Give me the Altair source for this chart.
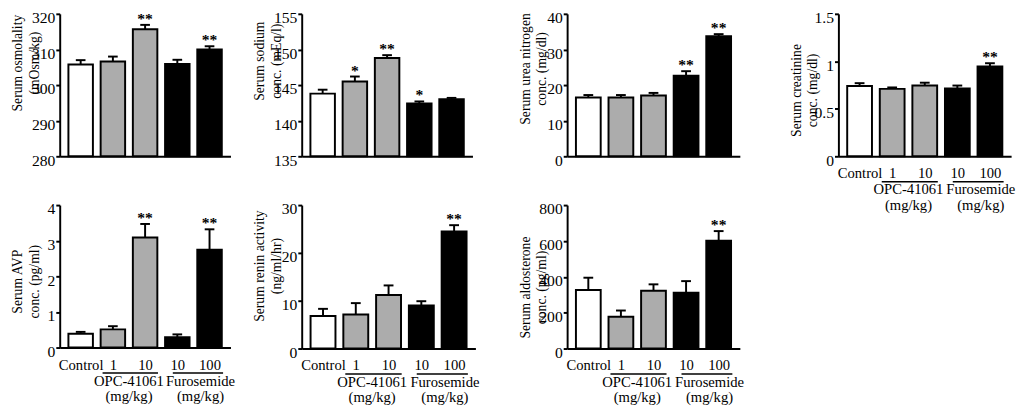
import json
import altair as alt
import pandas as pd

FONT = "Liberation Serif"

# ---- categories ----
positions = [0, 1, 2, 3, 4]
groups = ["Control", "OPC", "OPC", "Furo", "Furo"]
dose_labels = ["Control", "1", "10", "10", "100"]
group_domain = ["Control", "OPC", "Furo"]
group_fills = ["white", "#acacac", "black"]

group_names = ["OPC-41061", "Furosemide"]
group_units = ["(mg/kg)", "(mg/kg)"]
group_centers = [1.5, 3.72]
underline_start = [0.68, 2.86]
underline_end = [2.4, 4.42]

# ---- series (mean, top of error bar, significance) ----
osm_mean = [305.8, 306.6, 315.7, 305.9, 310.0]
osm_top = [307.0, 308.0, 316.9, 307.1, 310.9]
osm_star = ["", "", "**", "", "**"]

na_mean = [143.8, 145.5, 148.8, 142.4, 143.0]
na_top = [144.35, 146.2, 149.2, 142.7, 143.2]
na_star = ["", "*", "**", "*", ""]

bun_mean = [16.5, 16.5, 17.1, 22.6, 33.7]
bun_top = [17.2, 17.2, 17.8, 23.9, 34.3]
bun_star = ["", "", "", "**", "**"]

cre_mean = [0.74, 0.71, 0.745, 0.715, 0.945]
cre_top = [0.77, 0.725, 0.775, 0.745, 0.98]
cre_star = ["", "", "", "", "**"]

avp_mean = [0.39, 0.51, 3.09, 0.29, 2.75]
avp_top = [0.44, 0.60, 3.47, 0.37, 3.32]
avp_star = ["", "", "**", "", "**"]

pra_mean = [6.8, 7.1, 11.2, 9.0, 24.5]
pra_top = [8.3, 9.5, 13.2, 9.9, 25.8]
pra_star = ["", "", "", "", "**"]

ald_mean = [326, 177, 322, 311, 601]
ald_top = [395, 212, 358, 376, 655]
ald_star = ["", "", "", "", "**"]

label_expr = json.dumps(dose_labels) + "[datum.value]"


def panel(mean, top, star, ymin, ymax, yvals, title, width, height,
          show_labels, title_y):
    df = pd.DataFrame({"pos": positions, "group": groups, "mean": mean,
                       "top": top, "star": star})
    base = alt.Chart(df)
    xscale = alt.Scale(domain=[-0.65, 4.65], nice=False, zero=False)
    yscale = alt.Scale(domain=[ymin, ymax], nice=False, zero=False)

    yaxis = alt.Axis(values=yvals, title=title, labelExpr="'' + datum.value",
                     titleX=-36, titleY=title_y, labelOffset=4,
                     titleLineHeight=17)
    xaxis = alt.Axis(values=positions, labelExpr=label_expr,
                     labels=show_labels, ticks=False, title=None,
                     labelPadding=10, labelFontSize=15,
                     labelOverlap=False, labelFlush=False)

    bars = base.transform_calculate(
        lo="datum.pos - 0.38", hi="datum.pos + 0.38"
    ).mark_bar(stroke="black", strokeWidth=2).encode(
        x=alt.X("lo:Q", scale=xscale, axis=xaxis),
        x2="hi:Q",
        y=alt.Y("mean:Q", scale=yscale, axis=yaxis),
        y2=alt.datum(ymin),
        color=alt.Color("group:N",
                        scale=alt.Scale(domain=group_domain, range=group_fills),
                        legend=None),
    )
    err = base.mark_rule(color="black", strokeWidth=2).encode(
        x=alt.X("pos:Q", scale=xscale, axis=xaxis),
        y=alt.Y("mean:Q", scale=yscale, axis=yaxis),
        y2="top:Q",
    )
    cap = base.transform_calculate(
        clo="datum.pos - 0.15", chi="datum.pos + 0.15"
    ).mark_rule(color="black", strokeWidth=2).encode(
        x=alt.X("clo:Q", scale=xscale, axis=xaxis),
        x2="chi:Q",
        y=alt.Y("top:Q", scale=yscale, axis=yaxis),
    )
    stars = base.mark_text(font=FONT, fontSize=16, fontWeight="bold",
                           baseline="middle", dy=-6, color="black").encode(
        x=alt.X("pos:Q", scale=xscale, axis=xaxis),
        y=alt.Y("top:Q", scale=yscale, axis=yaxis),
        text="star:N",
    )
    layers = [bars, err, cap, stars]
    if show_labels:
        gdf = pd.DataFrame({"cx": group_centers, "name": group_names,
                            "unit": group_units, "ulo": underline_start,
                            "uhi": underline_end})
        gbase = alt.Chart(gdf)
        uline = gbase.mark_rule(color="black", strokeWidth=1.5).encode(
            x=alt.X("ulo:Q", scale=xscale, axis=xaxis), x2="uhi:Q",
            y=alt.value(height + 26),
        )
        gname = gbase.mark_text(font=FONT, fontSize=15, color="black",
                                baseline="middle").encode(
            x=alt.X("cx:Q", scale=xscale, axis=xaxis),
            y=alt.value(height + 34), text="name:N",
        )
        gunit = gbase.mark_text(font=FONT, fontSize=15, color="black",
                                baseline="middle").encode(
            x=alt.X("cx:Q", scale=xscale, axis=xaxis),
            y=alt.value(height + 50), text="unit:N",
        )
        layers += [uline, gname, gunit]
    return alt.layer(*layers).properties(width=width, height=height)


p1 = panel(osm_mean, osm_top, osm_star, 280, 320, [280, 290, 300, 310, 320],
           ["Serum osmolality", "(mOsm/kg)"], 175, 146, False, 50)
p2 = panel(na_mean, na_top, na_star, 135, 155, [135, 140, 145, 150, 155],
           ["Serum sodium", "conc. (mEq/l)"], 175, 146, False, 48)
p3 = panel(bun_mean, bun_top, bun_star, 0, 40, [0, 10, 20, 30, 40],
           ["Serum urea nitrogen", "conc. (mg/dl)"], 177, 146, False, 56)
p4 = panel(cre_mean, cre_top, cre_star, 0, 1.5, [0, 0.5, 1, 1.5],
           ["Serum creatinine", "conc. (mg/dl)"], 177, 146, True, 78)
p5 = panel(avp_mean, avp_top, avp_star, 0, 4, [0, 1, 2, 3, 4],
           ["Serum AVP", "conc. (pg/ml)"], 175, 146, True, 78)
p6 = panel(pra_mean, pra_top, pra_star, 0, 30, [0, 10, 20, 30],
           ["Serum renin activity", "(ng/ml/hr)"], 178, 147, True, 62)
p7 = panel(ald_mean, ald_top, ald_star, 0, 800, [0, 200, 400, 600, 800],
           ["Serum aldosterone", "conc. (pg/ml)"], 177, 147, True, 84)

col1 = alt.vconcat(p1, p5, spacing=34)
col2 = alt.vconcat(p2, p6, spacing=34)
col3 = alt.vconcat(p3, p7, spacing=34)

chart = alt.hconcat(
    alt.hconcat(col1, col2, spacing=17),
    alt.hconcat(col3, p4, spacing=45),
    spacing=38,
).properties(
    padding={"left": 2, "top": -3, "right": 0, "bottom": 0}
).configure_view(stroke=None).configure_axis(
    labelFont=FONT, titleFont=FONT, labelFontSize=16, titleFontSize=14,
    titleFontWeight="normal", labelColor="black", titleColor="black",
    domainColor="black", tickColor="black", domainWidth=2, tickWidth=2,
    tickSize=4, labelPadding=1, grid=False,
)

chart.save("out.html", embed_options={"renderer": "svg", "actions": False})
